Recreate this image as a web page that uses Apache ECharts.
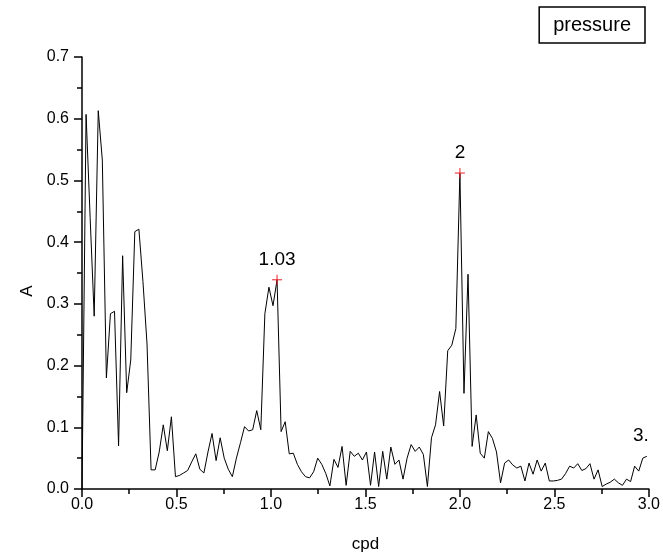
<!DOCTYPE html>
<html>
<head>
<meta charset="utf-8">
<script src="https://cdn.jsdelivr.net/npm/echarts@6/dist/echarts.min.js"></script>
<style>
  html, body { margin: 0; padding: 0; background: #fff; }
  #main { width: 663px; height: 558px; }
</style>
</head>
<body>
<div id="main"></div>
<script>
// frequency step of the spectrum (cpd)
var df = 2 / 93
// amplitude A, one value per frequency step
var amp = [
  0.0, 0.607, 0.44, 0.28, 0.613, 0.533, 0.18, 0.284, 0.288, 0.07,
  0.378, 0.156, 0.209, 0.417, 0.421, 0.336, 0.235, 0.031, 0.031, 0.06,
  0.104, 0.062, 0.117, 0.02, 0.022, 0.026, 0.03, 0.044, 0.057, 0.032,
  0.026, 0.06, 0.09, 0.046, 0.083, 0.05, 0.032, 0.02, 0.05, 0.075,
  0.101, 0.094, 0.096, 0.127, 0.096, 0.284, 0.327, 0.297, 0.339, 0.093,
  0.109, 0.057, 0.058, 0.04, 0.028, 0.02, 0.018, 0.028, 0.05, 0.04,
  0.025, 0.005, 0.048, 0.035, 0.069, 0.006, 0.061, 0.053, 0.058, 0.047,
  0.06, 0.006, 0.06, 0.004, 0.061, 0.016, 0.068, 0.04, 0.047, 0.016,
  0.05, 0.072, 0.061, 0.068, 0.056, 0.004, 0.083, 0.104, 0.158, 0.102,
  0.224, 0.233, 0.26, 0.512, 0.155, 0.348, 0.069, 0.12, 0.058, 0.05,
  0.093, 0.082, 0.06, 0.01, 0.042, 0.047, 0.039, 0.034, 0.037, 0.013,
  0.042, 0.024, 0.047, 0.029, 0.042, 0.013, 0.013, 0.014, 0.016, 0.025,
  0.037, 0.034, 0.041, 0.03, 0.033, 0.041, 0.016, 0.031, 0.004, 0.008,
  0.011, 0.016, 0.01, 0.006, 0.016, 0.012, 0.037, 0.029, 0.05, 0.053
]
// labelled peaks: index into amp, text shown above
var peakIdx = [48, 93]
var peakText = ['1.03', '2']
var endIdx = 139
var endText = '3.'

var xTicks = [0, 0.5, 1.0, 1.5, 2.0, 2.5, 3.0]
var yTicks = [0, 0.1, 0.2, 0.3, 0.4, 0.5, 0.6, 0.7]

var data = []
for (var i = 0; i < amp.length; i++) {
  data.push([i * df, amp[i]])
}

var marks = []
for (var k = 0; k < peakIdx.length; k++) {
  marks.push({ name: peakText[k], coord: data[peakIdx[k]] })
}
marks.push({
  name: endText, coord: data[endIdx], symbolSize: 0,
  label: { distance: 11, offset: [-6, 0] }
})

var font = 'Liberation Sans, Arial, sans-serif'
var axisCommon = {
  axisLine: { show: true, lineStyle: { color: '#000', width: 1.5 } },
  axisTick: { show: true, inside: false, length: 8, lineStyle: { color: '#000', width: 1.5 } },
  minorTick: { show: true, splitNumber: 2, length: 5, lineStyle: { color: '#000', width: 1.5 } },
  splitLine: { show: false },
  axisLabel: { color: '#000', fontSize: 16, fontFamily: font,
    formatter: function (v) { return v.toFixed(1) } },
  nameTextStyle: { color: '#000', fontSize: 17, fontFamily: font }
}

const myChart = echarts.init(document.getElementById('main'), null, { renderer: 'canvas' })
var option = {
  animation: false,
  backgroundColor: '#fff',
  textStyle: { fontFamily: font },
  grid: { left: 82, right: 10, top: 57, bottom: 66 },
  legend: {
    data: [{ name: 'pressure', icon: 'none' }],
    right: 18, top: 7,
    itemWidth: 0, itemHeight: 20,
    padding: [8, 14, 8, 9],
    borderColor: '#000', borderWidth: 1.5,
    textStyle: { color: '#000', fontSize: 20, fontFamily: font }
  },
  xAxis: Object.assign({}, axisCommon, {
    type: 'value', min: xTicks[0], max: xTicks[xTicks.length - 1], interval: 0.5,
    name: 'cpd', nameLocation: 'middle', nameGap: 47,
    axisLabel: Object.assign({}, axisCommon.axisLabel, { margin: 8 })
  }),
  yAxis: Object.assign({}, axisCommon, {
    type: 'value', min: yTicks[0], max: yTicks[yTicks.length - 1], interval: 0.1,
    name: 'A', nameLocation: 'middle', nameGap: 45, nameRotate: 90,
    nameTextStyle: { color: '#000', fontSize: 17, fontFamily: font, padding: [0, 36, 0, 0] },
    axisLabel: Object.assign({}, axisCommon.axisLabel, { margin: 13 })
  }),
  series: [{
    name: 'pressure',
    type: 'line',
    data: data,
    showSymbol: false,
    lineStyle: { color: '#000', width: 1 },
    itemStyle: { color: '#000' },
    markPoint: {
      symbol: 'path://M0,5L10,5M5,0L5,10',
      symbolSize: 10,
      itemStyle: { color: 'none', borderColor: '#e8202a', borderWidth: 1 },
      label: { show: true, position: 'top', distance: 3, color: '#000', fontSize: 19,
        fontFamily: font, formatter: function (p) { return p.name } },
      data: marks
    }
  }]
}
myChart.setOption(option)
</script>
</body>
</html>
